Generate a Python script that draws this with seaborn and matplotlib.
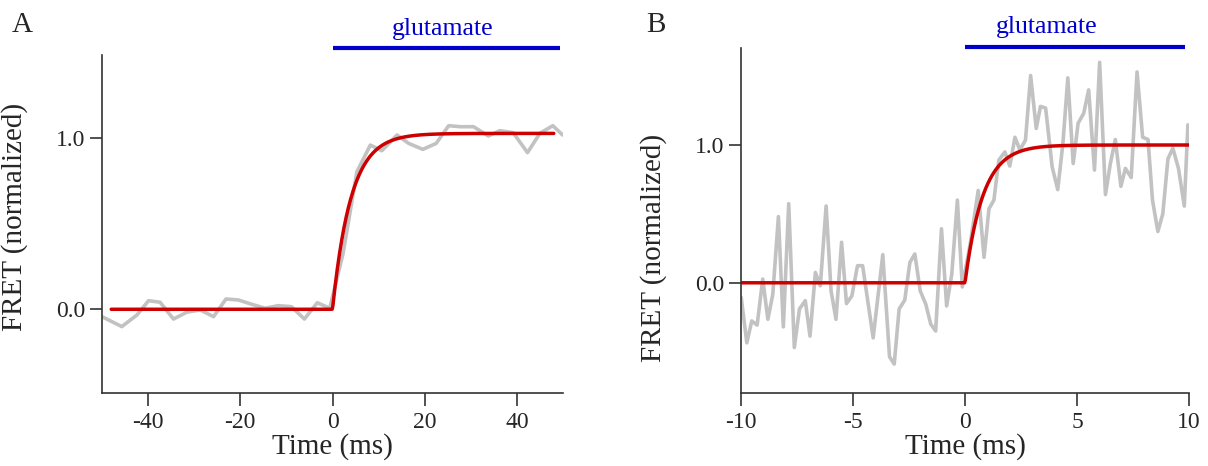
import numpy as np
import pandas as pd
import matplotlib
matplotlib.use("Agg")
import matplotlib.pyplot as plt
import seaborn as sns

# ---------------- data ----------------
# Panel A: measured trace (time in ms, normalized FRET)
a_time = [-50, -45.7, -42.4, -39.9, -37.4, -34.5, -31.6, -28.7, -25.8, -23.1,
          -20.4, -17.5, -14.6, -11.8, -8.9, -6.1, -3.3, -0.6, 2.3, 5.3,
          8.2, 10.7, 14.0, 16.5, 19.6, 22.5, 25.2, 27.8, 30.6, 33.8,
          36.3, 39.2, 42.3, 45.0, 47.8, 49.9]
a_fret = [-0.043, -0.101, -0.033, 0.05, 0.041, -0.057, -0.017, -0.004, -0.043, 0.06,
          0.054, 0.029, 0.006, 0.021, 0.015, -0.057, 0.038, 0.006, 0.326, 0.802,
          0.957, 0.924, 1.016, 0.967, 0.932, 0.967, 1.07, 1.064, 1.064, 1.01,
          1.041, 1.029, 0.913, 1.026, 1.07, 1.016]
# Panel A: mono-exponential fit parameters
a_fit_range = [-48, 48]
a_fit_base, a_fit_amp, a_fit_tau = 0.0, 1.025, 4.0

# Panel B: measured trace
b_time = [-9.99, -9.74, -9.52, -9.28, -9.03, -8.8, -8.58, -8.33, -8.11, -7.87,
          -7.62, -7.39, -7.13, -6.92, -6.68, -6.46, -6.2, -5.98, -5.76, -5.51,
          -5.29, -5.05, -4.8, -4.57, -4.1, -3.67, -3.37, -3.16, -2.94, -2.69,
          -2.46, -2.24, -2.0, -1.75, -1.53, -1.31, -1.05, -0.82, -0.59, -0.34,
          -0.12, 0.25, 0.59, 0.85, 1.07, 1.29, 1.51, 1.78, 2.0, 2.23,
          2.45, 2.7, 2.93, 3.18, 3.37, 3.6, 3.89, 4.14, 4.37, 4.59,
          4.83, 5.05, 5.3, 5.52, 5.78, 6.01, 6.27, 6.49, 6.71, 6.96,
          7.16, 7.42, 7.68, 7.93, 8.17, 8.37, 8.61, 8.83, 9.06, 9.28,
          9.53, 9.79, 9.95]
b_fret = [-0.107, -0.436, -0.277, -0.307, 0.027, -0.265, -0.083, 0.48, -0.32, 0.574,
          -0.47, -0.19, -0.13, -0.387, 0.075, -0.022, 0.557, -0.058, -0.265, 0.294,
          -0.151, -0.095, 0.124, 0.124, -0.40, 0.204, -0.537, -0.59, -0.19, -0.126,
          0.148, 0.209, -0.058, -0.156, -0.30, -0.35, 0.392, -0.168, 0.063, 0.60,
          -0.03, 0.30, 0.67, 0.185, 0.537, 0.6, 0.89, 0.95, 0.847, 1.056,
          0.964, 1.036, 1.504, 1.12, 1.28, 1.268, 0.842, 0.676, 1.01, 1.487,
          0.866, 1.158, 1.23, 1.40, 0.818, 1.6, 0.64, 0.866, 1.04, 0.70,
          0.83, 0.764, 1.53, 1.056, 1.04, 0.60, 0.372, 0.50, 0.90, 0.976,
          0.83, 0.557, 1.146]
b_fit_range = [-10, 10]
b_fit_base, b_fit_amp, b_fit_tau = 0.0, 1.0, 0.8

# glutamate application bars (start, end) in ms
a_glu = [0, 49.3]
b_glu = [0, 9.8]

a_xticks = [-40, -20, 0, 20, 40]
b_xticks = [-10, -5, 0, 5, 10]
yticks = [0.0, 1.0]
ytick_labels = ["0.0", "1.0"]


def fit_curve(rng, base, amp, tau):
    t = np.linspace(rng[0], rng[1], 600)
    y = np.where(t < 0, base, base + amp * (1 - np.exp(-np.clip(t, 0, None) / tau)))
    return pd.DataFrame({"t": t, "y": y})


# ---------------- style ----------------
sns.set_style("ticks")
plt.rcParams["font.family"] = ["Liberation Serif", "DejaVu Serif"]
plt.rcParams["axes.unicode_minus"] = False

GREY = "#c2c2c2"
RED = "#cc0000"
BLUE = "#0000cc"
SPINE = "#333333"

fig = plt.figure(figsize=(12.08, 4.66), dpi=100)
axA = fig.add_axes([102 / 1208, 1 - 393 / 466, 461 / 1208, 338 / 466])
axB = fig.add_axes([741 / 1208, 1 - 393 / 466, 448 / 1208, 345 / 466])

dfA = pd.DataFrame({"t": a_time, "y": a_fret})
dfB = pd.DataFrame({"t": b_time, "y": b_fret})
fitA = fit_curve(a_fit_range, a_fit_base, a_fit_amp, a_fit_tau)
fitB = fit_curve(b_fit_range, b_fit_base, b_fit_amp, b_fit_tau)

for ax, df, fit, xl, yl, xt, glu, glu_y, txt_x, lab_y in [
    (axA, dfA, fitA, (-50, 50), (-0.488, 1.482), a_xticks, a_glu, 1.523, 24.0, 0.52),
    (axB, dfB, fitB, (-10, 10), (-0.8, 1.704), b_xticks, b_glu, 1.712, 3.65, 0.42),
]:
    sns.lineplot(data=df, x="t", y="y", ax=ax, color=GREY, linewidth=2.6,
                 estimator=None, sort=False)
    sns.lineplot(data=fit, x="t", y="y", ax=ax, color=RED, linewidth=2.5,
                 estimator=None, sort=False)
    ax.set_xlim(*xl)
    ax.set_ylim(*yl)
    ax.set_xticks(xt)
    ax.set_xticklabels([str(v) for v in xt])
    ax.set_yticks(yticks)
    ax.set_yticklabels(ytick_labels)
    ax.tick_params(axis="both", labelsize=17, length=9, width=1.2,
                   color=SPINE, direction="out", pad=3)
    ax.tick_params(axis="x", pad=5)
    for s in ["top", "right"]:
        ax.spines[s].set_visible(False)
    for s in ["left", "bottom"]:
        ax.spines[s].set_color(SPINE)
        ax.spines[s].set_linewidth(1.2)
    ax.set_xlabel("Time (ms)", fontsize=21, labelpad=0)
    ax.set_ylabel("FRET (normalized)", fontsize=21)
    ax.yaxis.set_label_coords(-74 / (ax.get_position().width * 1208), lab_y)
    # glutamate bar
    ax.plot(glu, [glu_y, glu_y], color=BLUE, linewidth=3, clip_on=False,
            solid_capstyle="butt")
    ax.text(txt_x, glu_y + 0.115 * (yl[1] - yl[0]) / 2.0, "glutamate", color=BLUE,
            fontsize=18.5, ha="center", va="center", clip_on=False)

fig.text(12 / 1208, 1 - 25 / 466, "A", fontsize=21, ha="left", va="center")
fig.text(646 / 1208, 1 - 25 / 466, "B", fontsize=21, ha="left", va="center")

fig.savefig("out.png", dpi=100)
